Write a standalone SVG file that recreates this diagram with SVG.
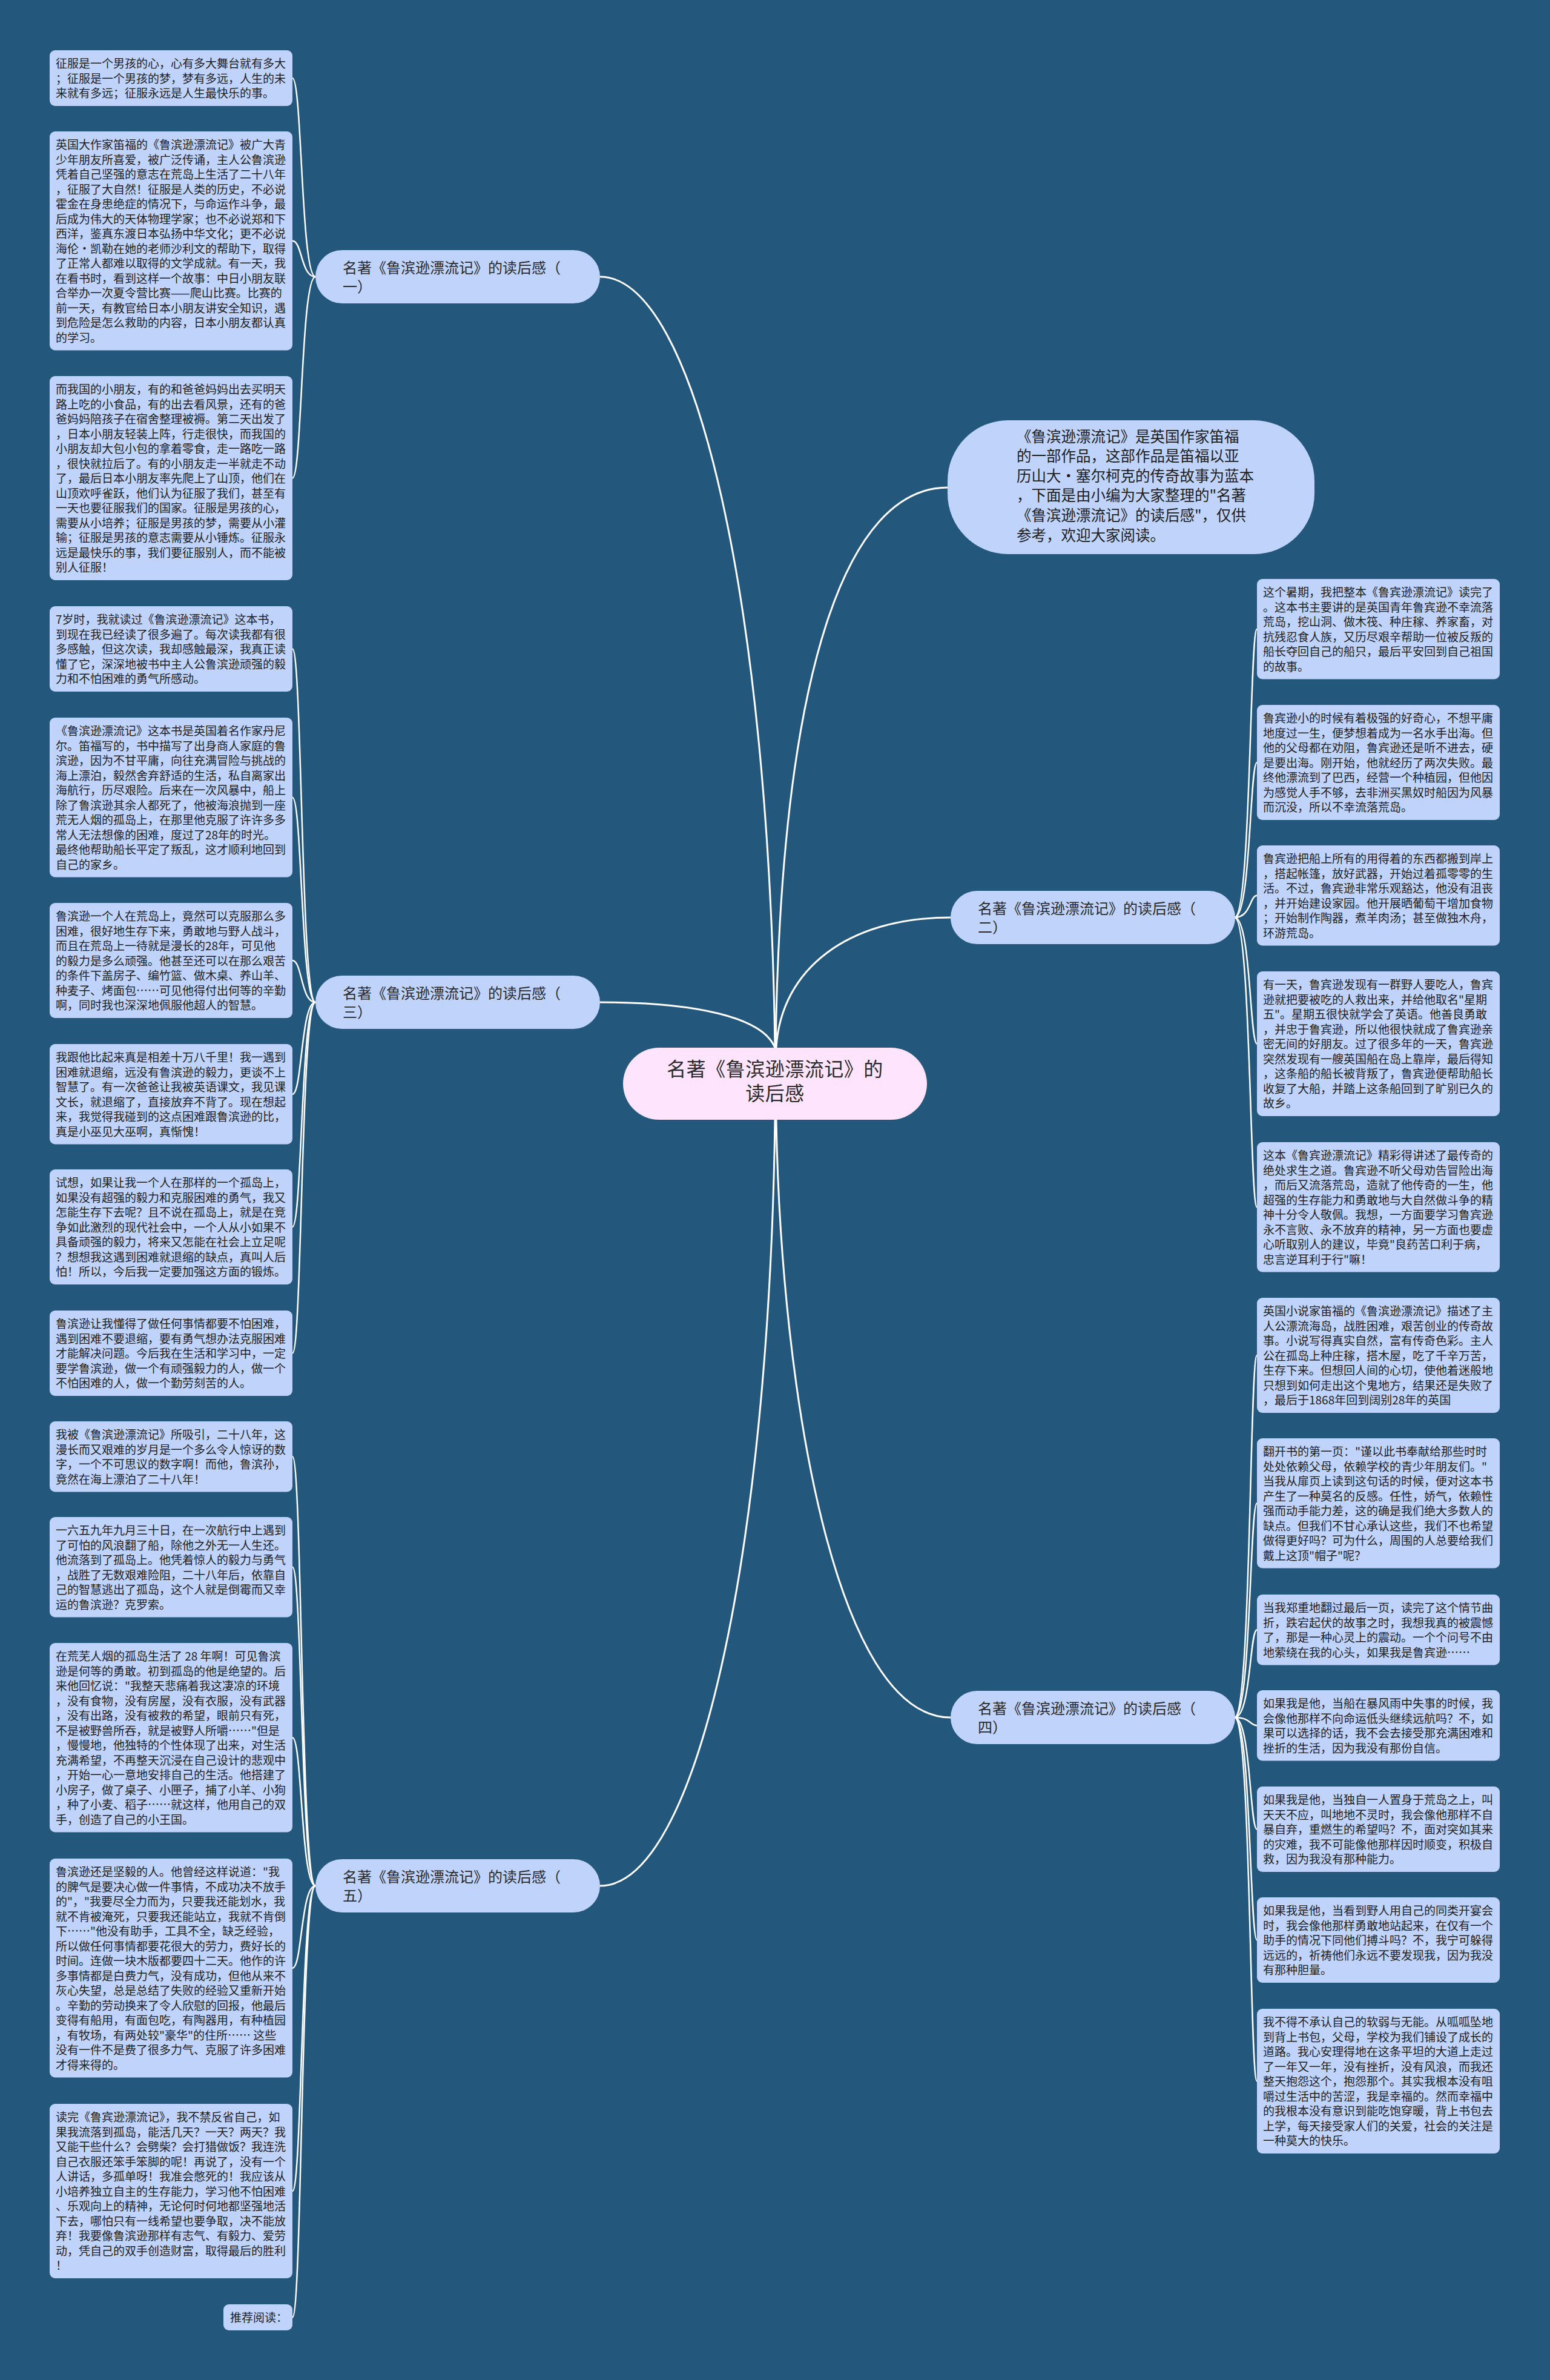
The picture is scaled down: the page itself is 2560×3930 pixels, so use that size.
<svg xmlns="http://www.w3.org/2000/svg" width="2560" height="3930" viewBox="0 0 2560 3930">
<style>
.bg{fill:#23577b}
.leaf{fill:#bfd3fb}
.br{fill:#bfd3fb}
.ctr{fill:#fee4fd}
.lt{font-family:"Noto Sans CJK SC","Noto Sans",sans-serif;font-size:19px;fill:#1e1e1e}
.bt{font-family:"Noto Sans CJK SC","Noto Sans",sans-serif;font-size:24px;fill:#2a2a2a}
.it{font-family:"Noto Sans CJK SC","Noto Sans",sans-serif;font-size:24.5px;fill:#1e1e1e}
.ct{font-family:"Noto Sans CJK SC","Noto Sans",sans-serif;font-size:32px;fill:#2a2a2a;text-anchor:middle;letter-spacing:0.5px}
.c{fill:none;stroke:#ffffff;stroke-width:3}
.cl{fill:none;stroke:#ffffff;stroke-width:2.5}
</style>
<rect class="bg" x="0" y="0" width="2560" height="3930"/>
<g id="connectors">
<path class="c" d="M991,457 C1150,457 1270,1000 1280,1730"/>
<path class="c" d="M991,1655 C1150,1655 1260,1680 1280,1730"/>
<path class="c" d="M991,3114 C1150,3114 1270,2571 1280,1849"/>
<path class="c" d="M1565,805 C1400,805 1290,1100 1281,1730"/>
<path class="c" d="M1570,1515 C1400,1515 1290,1600 1282,1730"/>
<path class="c" d="M1570,2836 C1380,2836 1290,2300 1282,1849"/>
<path class="cl" d="M521,457 C497,457 499,129 483,129"/>
<path class="cl" d="M521,457 C497,457 499,397.75 483,397.75"/>
<path class="cl" d="M521,457 C497,457 499,789.5 483,789.5"/>
<path class="cl" d="M521,1655 C497,1655 499,1071.5 483,1071.5"/>
<path class="cl" d="M521,1655 C497,1655 499,1316.75 483,1316.75"/>
<path class="cl" d="M521,1655 C497,1655 499,1586 483,1586"/>
<path class="cl" d="M521,1655 C497,1655 499,1806.75 483,1806.75"/>
<path class="cl" d="M521,1655 C497,1655 499,2026 483,2026"/>
<path class="cl" d="M521,1655 C497,1655 499,2234.5 483,2234.5"/>
<path class="cl" d="M521,3114 C497,3114 499,2405.25 483,2405.25"/>
<path class="cl" d="M521,3114 C497,3114 499,2587.75 483,2587.75"/>
<path class="cl" d="M521,3114 C497,3114 499,2869.25 483,2869.25"/>
<path class="cl" d="M521,3114 C497,3114 499,3249.75 483,3249.75"/>
<path class="cl" d="M521,3114 C497,3114 499,3618 483,3618"/>
<path class="cl" d="M521,3114 C497,3114 499,3826.5 483,3826.5"/>
<path class="cl" d="M2039,1515 C2066,1515 2064,1038.75 2076,1038.75"/>
<path class="cl" d="M2039,1515 C2066,1515 2064,1259 2076,1259"/>
<path class="cl" d="M2039,1515 C2066,1515 2064,1478.75 2076,1478.75"/>
<path class="cl" d="M2039,1515 C2066,1515 2064,1723.5 2076,1723.5"/>
<path class="cl" d="M2039,1515 C2066,1515 2064,1993.25 2076,1993.25"/>
<path class="cl" d="M2039,2836 C2066,2836 2064,2238 2076,2238"/>
<path class="cl" d="M2039,2836 C2066,2836 2064,2482.25 2076,2482.25"/>
<path class="cl" d="M2039,2836 C2066,2836 2064,2691.25 2076,2691.25"/>
<path class="cl" d="M2039,2836 C2066,2836 2064,2849.25 2076,2849.25"/>
<path class="cl" d="M2039,2836 C2066,2836 2064,3020.5 2076,3020.5"/>
<path class="cl" d="M2039,2836 C2066,2836 2064,3203.5 2076,3203.5"/>
<path class="cl" d="M2039,2836 C2066,2836 2064,3436.5 2076,3436.5"/>
</g>

<g id="center">
<rect class="ctr" x="1029" y="1730" width="502" height="119" rx="59.5"/>
<text class="ct" x="1280" y="1777">名著《鲁滨逊漂流记》的</text>
<text class="ct" x="1280" y="1817">读后感</text>
</g>

<g id="intro">
<rect class="leaf" x="1565" y="694" width="606" height="221" rx="100"/>
<text class="it" x="1679" y="729.5"><tspan x="1679" dy="0">《鲁滨逊漂流记》是英国作家笛福</tspan><tspan x="1679" dy="32.6">的一部作品，这部作品是笛福以亚</tspan><tspan x="1679" dy="32.6">历山大·塞尔柯克的传奇故事为蓝本</tspan><tspan x="1679" dy="32.6">，下面是由小编为大家整理的"名著</tspan><tspan x="1679" dy="32.6">《鲁滨逊漂流记》的读后感"，仅供</tspan><tspan x="1679" dy="32.6">参考，欢迎大家阅读。</tspan></text>
</g>

<g id="branch1">
<rect class="br" x="521" y="413" width="470" height="88" rx="44"/>
<text class="bt" x="566" y="450.5"><tspan x="566" dy="0">名著《鲁滨逊漂流记》的读后感（</tspan><tspan x="566" dy="31">一）</tspan></text>
</g>
<g id="branch3">
<rect class="br" x="521" y="1611" width="470" height="88" rx="44"/>
<text class="bt" x="566" y="1648.5"><tspan x="566" dy="0">名著《鲁滨逊漂流记》的读后感（</tspan><tspan x="566" dy="31">三）</tspan></text>
</g>
<g id="branch5">
<rect class="br" x="521" y="3070" width="470" height="88" rx="44"/>
<text class="bt" x="566" y="3107.5"><tspan x="566" dy="0">名著《鲁滨逊漂流记》的读后感（</tspan><tspan x="566" dy="31">五）</tspan></text>
</g>
<g id="branch2">
<rect class="br" x="1570" y="1471" width="470" height="88" rx="44"/>
<text class="bt" x="1615" y="1508.5"><tspan x="1615" dy="0">名著《鲁滨逊漂流记》的读后感（</tspan><tspan x="1615" dy="31">二）</tspan></text>
</g>
<g id="branch4">
<rect class="br" x="1570" y="2792" width="470" height="88" rx="44"/>
<text class="bt" x="1615" y="2829.5"><tspan x="1615" dy="0">名著《鲁滨逊漂流记》的读后感（</tspan><tspan x="1615" dy="31">四）</tspan></text>
</g>

<g id="L1">
<rect class="leaf" x="82" y="83" width="401" height="92" rx="9"/>
<text class="lt" x="92" y="112"><tspan x="92" dy="0">征服是一个男孩的心，心有多大舞台就有多大</tspan><tspan x="92" dy="24.5">；征服是一个男孩的梦，梦有多远，人生的未</tspan><tspan x="92" dy="24.5">来就有多远；征服永远是人生最快乐的事。</tspan></text>
</g>
<g id="L2">
<rect class="leaf" x="82" y="217" width="401" height="361.5" rx="9"/>
<text class="lt" x="92" y="246"><tspan x="92" dy="0">英国大作家笛福的《鲁滨逊漂流记》被广大青</tspan><tspan x="92" dy="24.5">少年朋友所喜爱，被广泛传诵，主人公鲁滨逊</tspan><tspan x="92" dy="24.5">凭着自己坚强的意志在荒岛上生活了二十八年</tspan><tspan x="92" dy="24.5">，征服了大自然！征服是人类的历史，不必说</tspan><tspan x="92" dy="24.5">霍金在身患绝症的情况下，与命运作斗争，最</tspan><tspan x="92" dy="24.5">后成为伟大的天体物理学家；也不必说郑和下</tspan><tspan x="92" dy="24.5">西洋，鉴真东渡日本弘扬中华文化；更不必说</tspan><tspan x="92" dy="24.5">海伦·凯勒在她的老师沙利文的帮助下，取得</tspan><tspan x="92" dy="24.5">了正常人都难以取得的文学成就。有一天，我</tspan><tspan x="92" dy="24.5">在看书时，看到这样一个故事：中日小朋友联</tspan><tspan x="92" dy="24.5">合举办一次夏令营比赛——爬山比赛。比赛的</tspan><tspan x="92" dy="24.5">前一天，有教官给日本小朋友讲安全知识，遇</tspan><tspan x="92" dy="24.5">到危险是怎么救助的内容，日本小朋友都认真</tspan><tspan x="92" dy="24.5">的学习。</tspan></text>
</g>
<g id="L3">
<rect class="leaf" x="82" y="621" width="401" height="337" rx="9"/>
<text class="lt" x="92" y="650"><tspan x="92" dy="0">而我国的小朋友，有的和爸爸妈妈出去买明天</tspan><tspan x="92" dy="24.5">路上吃的小食品，有的出去看风景，还有的爸</tspan><tspan x="92" dy="24.5">爸妈妈陪孩子在宿舍整理被褥。第二天出发了</tspan><tspan x="92" dy="24.5">，日本小朋友轻装上阵，行走很快，而我国的</tspan><tspan x="92" dy="24.5">小朋友却大包小包的拿着零食，走一路吃一路</tspan><tspan x="92" dy="24.5">，很快就拉后了。有的小朋友走一半就走不动</tspan><tspan x="92" dy="24.5">了，最后日本小朋友率先爬上了山顶，他们在</tspan><tspan x="92" dy="24.5">山顶欢呼雀跃，他们认为征服了我们，甚至有</tspan><tspan x="92" dy="24.5">一天也要征服我们的国家。征服是男孩的心，</tspan><tspan x="92" dy="24.5">需要从小培养；征服是男孩的梦，需要从小灌</tspan><tspan x="92" dy="24.5">输；征服是男孩的意志需要从小锤炼。征服永</tspan><tspan x="92" dy="24.5">远是最快乐的事，我们要征服别人，而不能被</tspan><tspan x="92" dy="24.5">别人征服！</tspan></text>
</g>
<g id="L4">
<rect class="leaf" x="82" y="1001" width="401" height="141" rx="9"/>
<text class="lt" x="92" y="1030"><tspan x="92" dy="0">7岁时，我就读过《鲁滨逊漂流记》这本书，</tspan><tspan x="92" dy="24.5">到现在我已经读了很多遍了。每次读我都有很</tspan><tspan x="92" dy="24.5">多感触，但这次读，我却感触最深，我真正读</tspan><tspan x="92" dy="24.5">懂了它，深深地被书中主人公鲁滨逊顽强的毅</tspan><tspan x="92" dy="24.5">力和不怕困难的勇气所感动。</tspan></text>
</g>
<g id="L5">
<rect class="leaf" x="82" y="1185" width="401" height="263.5" rx="9"/>
<text class="lt" x="92" y="1214"><tspan x="92" dy="0">《鲁滨逊漂流记》这本书是英国着名作家丹尼</tspan><tspan x="92" dy="24.5">尔。笛福写的，书中描写了出身商人家庭的鲁</tspan><tspan x="92" dy="24.5">滨逊，因为不甘平庸，向往充满冒险与挑战的</tspan><tspan x="92" dy="24.5">海上漂泊，毅然舍弃舒适的生活，私自离家出</tspan><tspan x="92" dy="24.5">海航行，历尽艰险。后来在一次风暴中，船上</tspan><tspan x="92" dy="24.5">除了鲁滨逊其余人都死了，他被海浪抛到一座</tspan><tspan x="92" dy="24.5">荒无人烟的孤岛上，在那里他克服了许许多多</tspan><tspan x="92" dy="24.5">常人无法想像的困难，度过了28年的时光。</tspan><tspan x="92" dy="24.5">最终他帮助船长平定了叛乱，这才顺利地回到</tspan><tspan x="92" dy="24.5">自己的家乡。</tspan></text>
</g>
<g id="L6">
<rect class="leaf" x="82" y="1491" width="401" height="190" rx="9"/>
<text class="lt" x="92" y="1520"><tspan x="92" dy="0">鲁滨逊一个人在荒岛上，竟然可以克服那么多</tspan><tspan x="92" dy="24.5">困难，很好地生存下来，勇敢地与野人战斗，</tspan><tspan x="92" dy="24.5">而且在荒岛上一待就是漫长的28年，可见他</tspan><tspan x="92" dy="24.5">的毅力是多么顽强。他甚至还可以在那么艰苦</tspan><tspan x="92" dy="24.5">的条件下盖房子、编竹篮、做木桌、养山羊、</tspan><tspan x="92" dy="24.5">种麦子、烤面包……可见他得付出何等的辛勤</tspan><tspan x="92" dy="24.5">啊，同时我也深深地佩服他超人的智慧。</tspan></text>
</g>
<g id="L7">
<rect class="leaf" x="82" y="1724" width="401" height="165.5" rx="9"/>
<text class="lt" x="92" y="1753"><tspan x="92" dy="0">我跟他比起来真是相差十万八千里！我一遇到</tspan><tspan x="92" dy="24.5">困难就退缩，远没有鲁滨逊的毅力，更谈不上</tspan><tspan x="92" dy="24.5">智慧了。有一次爸爸让我被英语课文，我见课</tspan><tspan x="92" dy="24.5">文长，就退缩了，直接放弃不背了。现在想起</tspan><tspan x="92" dy="24.5">来，我觉得我碰到的这点困难跟鲁滨逊的比，</tspan><tspan x="92" dy="24.5">真是小巫见大巫啊，真惭愧！</tspan></text>
</g>
<g id="L8">
<rect class="leaf" x="82" y="1931" width="401" height="190" rx="9"/>
<text class="lt" x="92" y="1960"><tspan x="92" dy="0">试想，如果让我一个人在那样的一个孤岛上，</tspan><tspan x="92" dy="24.5">如果没有超强的毅力和克服困难的勇气，我又</tspan><tspan x="92" dy="24.5">怎能生存下去呢？且不说在孤岛上，就是在竞</tspan><tspan x="92" dy="24.5">争如此激烈的现代社会中，一个人从小如果不</tspan><tspan x="92" dy="24.5">具备顽强的毅力，将来又怎能在社会上立足呢</tspan><tspan x="92" dy="24.5">？想想我这遇到困难就退缩的缺点，真叫人后</tspan><tspan x="92" dy="24.5">怕！所以，今后我一定要加强这方面的锻炼。</tspan></text>
</g>
<g id="L9">
<rect class="leaf" x="82" y="2164" width="401" height="141" rx="9"/>
<text class="lt" x="92" y="2193"><tspan x="92" dy="0">鲁滨逊让我懂得了做任何事情都要不怕困难，</tspan><tspan x="92" dy="24.5">遇到困难不要退缩，要有勇气想办法克服困难</tspan><tspan x="92" dy="24.5">才能解决问题。今后我在生活和学习中，一定</tspan><tspan x="92" dy="24.5">要学鲁滨逊，做一个有顽强毅力的人，做一个</tspan><tspan x="92" dy="24.5">不怕困难的人，做一个勤劳刻苦的人。</tspan></text>
</g>
<g id="L10">
<rect class="leaf" x="82" y="2347" width="401" height="116.5" rx="9"/>
<text class="lt" x="92" y="2376"><tspan x="92" dy="0">我被《鲁滨逊漂流记》所吸引，二十八年，这</tspan><tspan x="92" dy="24.5">漫长而又艰难的岁月是一个多么令人惊讶的数</tspan><tspan x="92" dy="24.5">字，一个不可思议的数字啊！而他，鲁滨孙，</tspan><tspan x="92" dy="24.5">竟然在海上漂泊了二十八年！</tspan></text>
</g>
<g id="L11">
<rect class="leaf" x="82" y="2505" width="401" height="165.5" rx="9"/>
<text class="lt" x="92" y="2534"><tspan x="92" dy="0">一六五九年九月三十日，在一次航行中上遇到</tspan><tspan x="92" dy="24.5">了可怕的风浪翻了船，除他之外无一人生还。</tspan><tspan x="92" dy="24.5">他流落到了孤岛上。他凭着惊人的毅力与勇气</tspan><tspan x="92" dy="24.5">，战胜了无数艰难险阻，二十八年后，依靠自</tspan><tspan x="92" dy="24.5">己的智慧逃出了孤岛，这个人就是倒霉而又幸</tspan><tspan x="92" dy="24.5">运的鲁滨逊？克罗索。</tspan></text>
</g>
<g id="L12">
<rect class="leaf" x="82" y="2713" width="401" height="312.5" rx="9"/>
<text class="lt" x="92" y="2742"><tspan x="92" dy="0">在荒芜人烟的孤岛生活了 28 年啊！可见鲁滨</tspan><tspan x="92" dy="24.5">逊是何等的勇敢。初到孤岛的他是绝望的。后</tspan><tspan x="92" dy="24.5">来他回忆说："我整天悲痛着我这凄凉的环境</tspan><tspan x="92" dy="24.5">，没有食物，没有房屋，没有衣服，没有武器</tspan><tspan x="92" dy="24.5">，没有出路，没有被救的希望，眼前只有死，</tspan><tspan x="92" dy="24.5">不是被野兽所吞，就是被野人所嚼……"但是</tspan><tspan x="92" dy="24.5">，慢慢地，他独特的个性体现了出来，对生活</tspan><tspan x="92" dy="24.5">充满希望，不再整天沉浸在自己设计的悲观中</tspan><tspan x="92" dy="24.5">，开始一心一意地安排自己的生活。他搭建了</tspan><tspan x="92" dy="24.5">小房子，做了桌子、小匣子，捕了小羊、小狗</tspan><tspan x="92" dy="24.5">，种了小麦、稻子……就这样，他用自己的双</tspan><tspan x="92" dy="24.5">手，创造了自己的小王国。</tspan></text>
</g>
<g id="L13">
<rect class="leaf" x="82" y="3069" width="401" height="361.5" rx="9"/>
<text class="lt" x="92" y="3098"><tspan x="92" dy="0">鲁滨逊还是坚毅的人。他曾经这样说道："我</tspan><tspan x="92" dy="24.5">的脾气是要决心做一件事情，不成功决不放手</tspan><tspan x="92" dy="24.5">的"，"我要尽全力而为，只要我还能划水，我</tspan><tspan x="92" dy="24.5">就不肯被淹死，只要我还能站立，我就不肯倒</tspan><tspan x="92" dy="24.5">下……"他没有助手，工具不全，缺乏经验，</tspan><tspan x="92" dy="24.5">所以做任何事情都要花很大的劳力，费好长的</tspan><tspan x="92" dy="24.5">时间。连做一块木版都要四十二天。他作的许</tspan><tspan x="92" dy="24.5">多事情都是白费力气，没有成功，但他从来不</tspan><tspan x="92" dy="24.5">灰心失望，总是总结了失败的经验又重新开始</tspan><tspan x="92" dy="24.5">。辛勤的劳动换来了令人欣慰的回报，他最后</tspan><tspan x="92" dy="24.5">变得有船用，有面包吃，有陶器用，有种植园</tspan><tspan x="92" dy="24.5">，有牧场，有两处较"豪华"的住所…… 这些</tspan><tspan x="92" dy="24.5">没有一件不是费了很多力气、克服了许多困难</tspan><tspan x="92" dy="24.5">才得来得的。</tspan></text>
</g>
<g id="L14">
<rect class="leaf" x="82" y="3474" width="401" height="288" rx="9"/>
<text class="lt" x="92" y="3503"><tspan x="92" dy="0">读完《鲁宾逊漂流记》，我不禁反省自己，如</tspan><tspan x="92" dy="24.5">果我流落到孤岛，能活几天？一天？两天？我</tspan><tspan x="92" dy="24.5">又能干些什么？会劈柴？会打猎做饭？我连洗</tspan><tspan x="92" dy="24.5">自己衣服还笨手笨脚的呢！再说了，没有一个</tspan><tspan x="92" dy="24.5">人讲话，多孤单呀！我准会憋死的！我应该从</tspan><tspan x="92" dy="24.5">小培养独立自主的生存能力，学习他不怕困难</tspan><tspan x="92" dy="24.5">、乐观向上的精神，无论何时何地都坚强地活</tspan><tspan x="92" dy="24.5">下去，哪怕只有一线希望也要争取，决不能放</tspan><tspan x="92" dy="24.5">弃！我要像鲁滨逊那样有志气、有毅力、爱劳</tspan><tspan x="92" dy="24.5">动，凭自己的双手创造财富，取得最后的胜利</tspan><tspan x="92" dy="24.5">！</tspan></text>
</g>
<g id="L15">
<rect class="leaf" x="369" y="3805" width="114" height="43" rx="9"/>
<text class="lt" x="380" y="3834">推荐阅读：</text>
</g>

<g id="R1">
<rect class="leaf" x="2076" y="956" width="401" height="165.5" rx="9"/>
<text class="lt" x="2086" y="985"><tspan x="2086" dy="0">这个暑期，我把整本《鲁宾逊漂流记》读完了</tspan><tspan x="2086" dy="24.5">。这本书主要讲的是英国青年鲁宾逊不幸流落</tspan><tspan x="2086" dy="24.5">荒岛，挖山洞、做木筏、种庄稼、养家畜，对</tspan><tspan x="2086" dy="24.5">抗残忍食人族，又历尽艰辛帮助一位被反叛的</tspan><tspan x="2086" dy="24.5">船长夺回自己的船只，最后平安回到自己祖国</tspan><tspan x="2086" dy="24.5">的故事。</tspan></text>
</g>
<g id="R2">
<rect class="leaf" x="2076" y="1164" width="401" height="190" rx="9"/>
<text class="lt" x="2086" y="1193"><tspan x="2086" dy="0">鲁宾逊小的时候有着极强的好奇心，不想平庸</tspan><tspan x="2086" dy="24.5">地度过一生，便梦想着成为一名水手出海。但</tspan><tspan x="2086" dy="24.5">他的父母都在劝阻，鲁宾逊还是听不进去，硬</tspan><tspan x="2086" dy="24.5">是要出海。刚开始，他就经历了两次失败。最</tspan><tspan x="2086" dy="24.5">终他漂流到了巴西，经营一个种植园，但他因</tspan><tspan x="2086" dy="24.5">为感觉人手不够，去非洲买黑奴时船因为风暴</tspan><tspan x="2086" dy="24.5">而沉没，所以不幸流落荒岛。</tspan></text>
</g>
<g id="R3">
<rect class="leaf" x="2076" y="1396" width="401" height="165.5" rx="9"/>
<text class="lt" x="2086" y="1425"><tspan x="2086" dy="0">鲁宾逊把船上所有的用得着的东西都搬到岸上</tspan><tspan x="2086" dy="24.5">，搭起帐篷，放好武器，开始过着孤零零的生</tspan><tspan x="2086" dy="24.5">活。不过，鲁宾逊非常乐观豁达，他没有沮丧</tspan><tspan x="2086" dy="24.5">，并开始建设家园。他开展晒葡萄干增加食物</tspan><tspan x="2086" dy="24.5">；开始制作陶器，煮羊肉汤；甚至做独木舟，</tspan><tspan x="2086" dy="24.5">环游荒岛。</tspan></text>
</g>
<g id="R4">
<rect class="leaf" x="2076" y="1604" width="401" height="239" rx="9"/>
<text class="lt" x="2086" y="1633"><tspan x="2086" dy="0">有一天，鲁宾逊发现有一群野人要吃人，鲁宾</tspan><tspan x="2086" dy="24.5">逊就把要被吃的人救出来，并给他取名"星期</tspan><tspan x="2086" dy="24.5">五"。星期五很快就学会了英语。他善良勇敢</tspan><tspan x="2086" dy="24.5">，并忠于鲁宾逊，所以他很快就成了鲁宾逊亲</tspan><tspan x="2086" dy="24.5">密无间的好朋友。过了很多年的一天，鲁宾逊</tspan><tspan x="2086" dy="24.5">突然发现有一艘英国船在岛上靠岸，最后得知</tspan><tspan x="2086" dy="24.5">，这条船的船长被背叛了，鲁宾逊便帮助船长</tspan><tspan x="2086" dy="24.5">收复了大船，并踏上这条船回到了旷别已久的</tspan><tspan x="2086" dy="24.5">故乡。</tspan></text>
</g>
<g id="R5">
<rect class="leaf" x="2076" y="1886" width="401" height="214.5" rx="9"/>
<text class="lt" x="2086" y="1915"><tspan x="2086" dy="0">这本《鲁宾逊漂流记》精彩得讲述了最传奇的</tspan><tspan x="2086" dy="24.5">绝处求生之道。鲁宾逊不听父母劝告冒险出海</tspan><tspan x="2086" dy="24.5">，而后又流落荒岛，造就了他传奇的一生，他</tspan><tspan x="2086" dy="24.5">超强的生存能力和勇敢地与大自然做斗争的精</tspan><tspan x="2086" dy="24.5">神十分令人敬佩。我想，一方面要学习鲁宾逊</tspan><tspan x="2086" dy="24.5">永不言败、永不放弃的精神，另一方面也要虚</tspan><tspan x="2086" dy="24.5">心听取别人的建议，毕竟"良药苦口利于病，</tspan><tspan x="2086" dy="24.5">忠言逆耳利于行"嘛！</tspan></text>
</g>
<g id="R6">
<rect class="leaf" x="2076" y="2143" width="401" height="190" rx="9"/>
<text class="lt" x="2086" y="2172"><tspan x="2086" dy="0">英国小说家笛福的《鲁滨逊漂流记》描述了主</tspan><tspan x="2086" dy="24.5">人公漂流海岛，战胜困难，艰苦创业的传奇故</tspan><tspan x="2086" dy="24.5">事。小说写得真实自然，富有传奇色彩。主人</tspan><tspan x="2086" dy="24.5">公在孤岛上种庄稼，搭木屋，吃了千辛万苦，</tspan><tspan x="2086" dy="24.5">生存下来。但想回人间的心切，使他着迷般地</tspan><tspan x="2086" dy="24.5">只想到如何走出这个鬼地方，结果还是失败了</tspan><tspan x="2086" dy="24.5">，最后于1868年回到阔别28年的英国</tspan></text>
</g>
<g id="R7">
<rect class="leaf" x="2076" y="2375" width="401" height="214.5" rx="9"/>
<text class="lt" x="2086" y="2404"><tspan x="2086" dy="0">翻开书的第一页："谨以此书奉献给那些时时</tspan><tspan x="2086" dy="24.5">处处依赖父母，依赖学校的青少年朋友们。"</tspan><tspan x="2086" dy="24.5">当我从扉页上读到这句话的时候，便对这本书</tspan><tspan x="2086" dy="24.5">产生了一种莫名的反感。任性，娇气，依赖性</tspan><tspan x="2086" dy="24.5">强而动手能力差，这的确是我们绝大多数人的</tspan><tspan x="2086" dy="24.5">缺点。但我们不甘心承认这些，我们不也希望</tspan><tspan x="2086" dy="24.5">做得更好吗？可为什么，周围的人总要给我们</tspan><tspan x="2086" dy="24.5">戴上这顶"帽子"呢？</tspan></text>
</g>
<g id="R8">
<rect class="leaf" x="2076" y="2633" width="401" height="116.5" rx="9"/>
<text class="lt" x="2086" y="2662"><tspan x="2086" dy="0">当我郑重地翻过最后一页，读完了这个情节曲</tspan><tspan x="2086" dy="24.5">折，跌宕起伏的故事之时，我想我真的被震憾</tspan><tspan x="2086" dy="24.5">了，那是一种心灵上的震动。一个个问号不由</tspan><tspan x="2086" dy="24.5">地萦绕在我的心头，如果我是鲁宾逊……</tspan></text>
</g>
<g id="R9">
<rect class="leaf" x="2076" y="2791" width="401" height="116.5" rx="9"/>
<text class="lt" x="2086" y="2820"><tspan x="2086" dy="0">如果我是他，当船在暴风雨中失事的时候，我</tspan><tspan x="2086" dy="24.5">会像他那样不向命运低头继续远航吗？不，如</tspan><tspan x="2086" dy="24.5">果可以选择的话，我不会去接受那充满困难和</tspan><tspan x="2086" dy="24.5">挫折的生活，因为我没有那份自信。</tspan></text>
</g>
<g id="R10">
<rect class="leaf" x="2076" y="2950" width="401" height="141" rx="9"/>
<text class="lt" x="2086" y="2979"><tspan x="2086" dy="0">如果我是他，当独自一人置身于荒岛之上，叫</tspan><tspan x="2086" dy="24.5">天天不应，叫地地不灵时，我会像他那样不自</tspan><tspan x="2086" dy="24.5">暴自弃，重燃生的希望吗？不，面对突如其来</tspan><tspan x="2086" dy="24.5">的灾难，我不可能像他那样因时顺变，积极自</tspan><tspan x="2086" dy="24.5">救，因为我没有那种能力。</tspan></text>
</g>
<g id="R11">
<rect class="leaf" x="2076" y="3133" width="401" height="141" rx="9"/>
<text class="lt" x="2086" y="3162"><tspan x="2086" dy="0">如果我是他，当看到野人用自己的同类开宴会</tspan><tspan x="2086" dy="24.5">时，我会像他那样勇敢地站起来，在仅有一个</tspan><tspan x="2086" dy="24.5">助手的情况下同他们搏斗吗？不，我宁可躲得</tspan><tspan x="2086" dy="24.5">远远的，祈祷他们永远不要发现我，因为我没</tspan><tspan x="2086" dy="24.5">有那种胆量。</tspan></text>
</g>
<g id="R12">
<rect class="leaf" x="2076" y="3317" width="401" height="239" rx="9"/>
<text class="lt" x="2086" y="3346"><tspan x="2086" dy="0">我不得不承认自己的软弱与无能。从呱呱坠地</tspan><tspan x="2086" dy="24.5">到背上书包，父母，学校为我们铺设了成长的</tspan><tspan x="2086" dy="24.5">道路。我心安理得地在这条平坦的大道上走过</tspan><tspan x="2086" dy="24.5">了一年又一年，没有挫折，没有风浪，而我还</tspan><tspan x="2086" dy="24.5">整天抱怨这个，抱怨那个。其实我根本没有咀</tspan><tspan x="2086" dy="24.5">嚼过生活中的苦涩，我是幸福的。然而幸福中</tspan><tspan x="2086" dy="24.5">的我根本没有意识到能吃饱穿暖，背上书包去</tspan><tspan x="2086" dy="24.5">上学，每天接受家人们的关爱，社会的关注是</tspan><tspan x="2086" dy="24.5">一种莫大的快乐。</tspan></text>
</g>
</svg>
